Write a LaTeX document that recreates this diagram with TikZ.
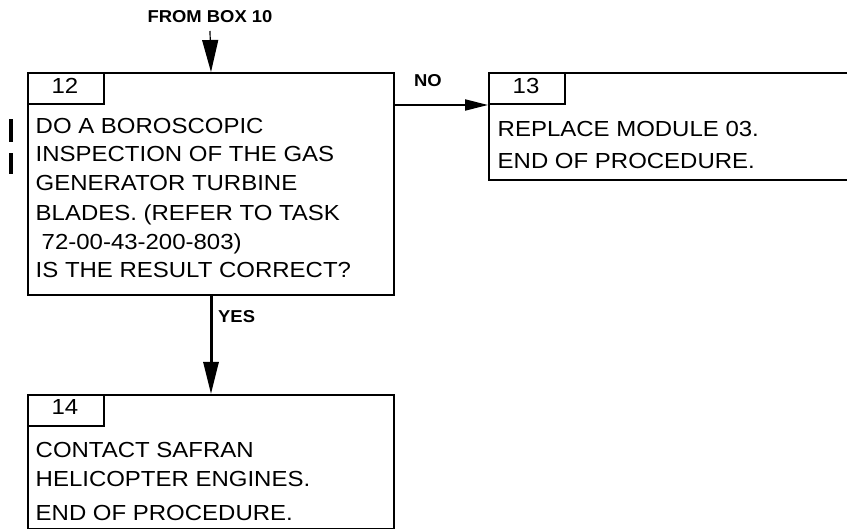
\documentclass[tikz,border=0pt]{standalone}
\usepackage{fontspec}
\setmainfont{Liberation Sans}[FakeStretch=1.1]
\newfontfamily\lblfont{Liberation Sans}[FakeStretch=1.07]
\usetikzlibrary{arrows.meta}
\begin{document}
\begin{tikzpicture}[x=1pt,y=-1pt,
  box/.style={draw, line width=2pt, inner sep=0pt, anchor=north west},
  txt/.style={anchor=base west, inner sep=0pt, font=\fontsize{21.8}{25}\selectfont},
  num/.style={anchor=base, inner sep=0pt, font=\fontsize{21.8}{25}\selectfont},
  lbl/.style={inner sep=0pt, font=\lblfont\bfseries\fontsize{17.2}{20}\selectfont},
  changebar/.style={fill=black}]
\useasboundingbox (0,0) rectangle (847,529);
\clip (0,0) rectangle (847,529);
% boxes
\node[box, minimum width=366pt, minimum height=222pt] (b12) at (27,72) {};
\node[box, minimum width=76pt, minimum height=31pt] (tab12) at (27,72) {};
\node[box, minimum width=364pt, minimum height=107pt] (b13) at (488,72) {};
\node[box, minimum width=76pt, minimum height=31pt] (tab13) at (488,72) {};
\node[box, minimum width=366pt, minimum height=134pt] (b14) at (27,394) {};
\node[box, minimum width=76pt, minimum height=31pt] (tab14) at (27,394) {};
% numbers
\node[num] (n12) at (65,94) {12};
\node[num] (n13) at (526,94) {13};
\node[num] (n14) at (65,415) {14};
% box 12 text
\node[txt] (t12a) at (35.5,134) {DO A BOROSCOPIC};
\node[txt] (t12b) at (35.5,162) {INSPECTION OF THE GAS};
\node[txt] (t12c) at (35.5,191) {GENERATOR TURBINE};
\node[txt] (t12d) at (35.5,221) {BLADES. (REFER TO TASK};
\node[txt] (t12e) at (41.5,250) {72-00-43-200-803)};
\node[txt] (t12f) at (35.5,278) {IS THE RESULT CORRECT?};
% box 13 text
\node[txt] (t13a) at (497.5,137) {REPLACE MODULE 03.};
\node[txt] (t13b) at (497.5,169) {END OF PROCEDURE.};
% box 14 text
\node[txt] (t14a) at (35.5,458) {CONTACT SAFRAN};
\node[txt] (t14b) at (35.5,487) {HELICOPTER ENGINES.};
\node[txt] (t14c) at (35.5,520) {END OF PROCEDURE.};
% labels
\node[lbl, anchor=base] (from) at (210,23) {FROM BOX 10};
\node[lbl, anchor=base] (no) at (428,87) {NO};
\node[lbl, anchor=base west] (yes) at (218,323) {YES};
% change bars
\fill[changebar] (8.5,119) rectangle (13,142);
\fill[changebar] (8.5,153) rectangle (13,174);
% connectors
\coordinate (fromend) at (210,31);
\draw[line width=1.2pt, -{Triangle[length=32pt,width=16pt]}] (fromend) -- (b12.north);
\draw[line width=3pt, -{Triangle[length=32pt,width=15pt]}] (b12.south) -- (b14.north);
\draw[line width=2pt, -{Triangle[length=23pt,width=11pt]}] (tab13.south west -| b12.east) -- (tab13.south west);
\end{tikzpicture}
\end{document}
